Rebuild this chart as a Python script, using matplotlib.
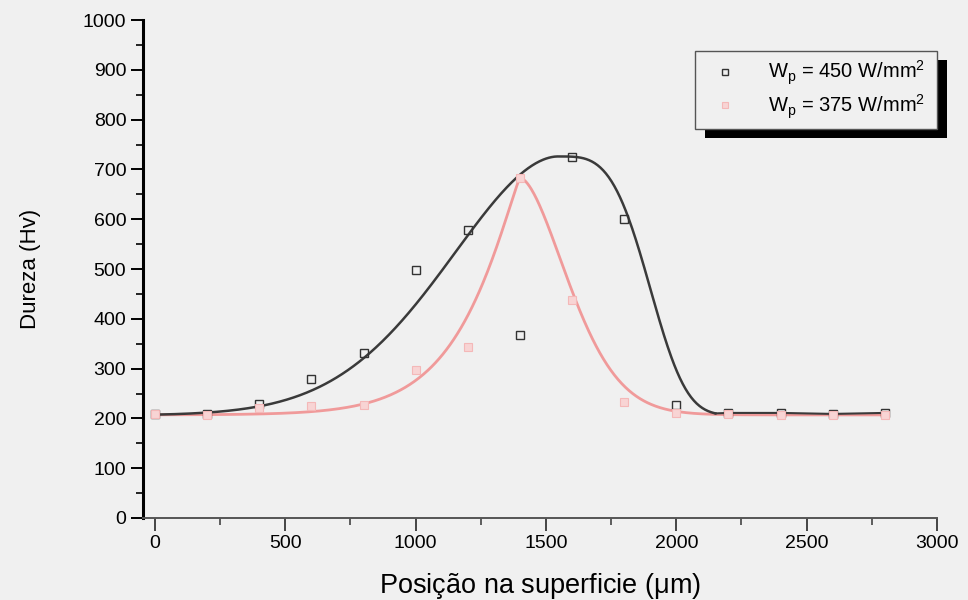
import numpy as np
import matplotlib
matplotlib.use("Agg")
import matplotlib.pyplot as plt
from matplotlib.ticker import MultipleLocator
from matplotlib.patches import Rectangle

plt.rcParams['font.family'] = ['Liberation Sans', 'DejaVu Sans']
plt.rcParams['mathtext.fontset'] = 'custom'
plt.rcParams['mathtext.rm'] = 'Liberation Sans'
plt.rcParams['mathtext.it'] = 'Liberation Sans'

# Measured hardness profiles (position in um, hardness in HV)
pos = [0, 200, 400, 600, 800, 1000, 1200, 1400, 1600, 1800, 2000, 2200, 2400, 2600, 2800]
hv_450 = [208, 208, 229, 279, 331, 498, 578, 367, 725, 600, 227, 211, 211, 209, 211]
hv_375 = [209, 207, 221, 225, 227, 297, 343, 683, 438, 233, 211, 209, 207, 207, 207]

labels = [r'W$_\mathrm{p}$ = 450 W/mm$^2$', r'W$_\mathrm{p}$ = 375 W/mm$^2$']

# Fitted peak parameters: baseline, amplitude, centre, left width/exponent, right width/exponent
fit_450 = dict(base=206, amp=520, c=1545, sl=596, pl=1.85, sr=390, pr=3.6, xmax=2150)
fit_375 = dict(base=207, amp=476, c=1400, sl=226, pl=1.15, sr=258, pr=1.7, xmax=2800)


def peak(x, base, amp, c, sl, pl, sr, pr, xmax):
    d = x - c
    s = np.where(d < 0, sl, sr)
    p = np.where(d < 0, pl, pr)
    return base + amp * np.exp(-np.abs(d / s) ** p)


bg = '#f0f0f0'
fig = plt.figure(figsize=(9.68, 6.0), dpi=100, facecolor=bg)
ax = fig.add_axes([143 / 968, 82 / 600, 794 / 968, 498 / 600])
ax.set_facecolor(bg)

black = '#3a3a3a'
pink = '#f09a9a'

x1 = np.linspace(0, fit_450['xmax'], 600)
ax.plot(x1, peak(x1, **fit_450), color=black, lw=1.8, zorder=3)
tail = [i for i, p in enumerate(pos) if p >= 2200]
ax.plot([fit_450['xmax']] + [pos[i] for i in tail],
        [peak(np.array(fit_450['xmax']), **fit_450)] + [hv_450[i] for i in tail],
        color=black, lw=1.5, zorder=3)

x2 = np.linspace(0, fit_375['xmax'], 800)
ax.plot(x2, peak(x2, **fit_375), color=pink, lw=2.0, zorder=2)

ax.plot(pos, hv_450, ls='none', marker='s', ms=6, mfc='none', mec='#333333', mew=1.0,
        zorder=4, label=labels[0])
ax.plot(pos, hv_375, ls='none', marker='s', ms=6, mfc='#f8d4d4', mec='#f4b8b8', mew=0.8,
        zorder=4, label=labels[1])

ax.set_xlim(-46, 3000)
ax.set_ylim(0, 1000)
ax.xaxis.set_major_locator(MultipleLocator(500))
ax.xaxis.set_minor_locator(MultipleLocator(250))
ax.yaxis.set_major_locator(MultipleLocator(100))
ax.yaxis.set_minor_locator(MultipleLocator(50))

for side in ('top', 'right'):
    ax.spines[side].set_visible(False)
ax.spines['left'].set_linewidth(2.2)
ax.spines['left'].set_color('black')
ax.spines['bottom'].set_linewidth(1.4)
ax.spines['bottom'].set_color('#555555')

ax.tick_params(which='major', direction='out', length=9, width=1.4, labelsize=14, colors='black', pad=3)
ax.tick_params(which='minor', direction='out', length=5, width=1.2, colors='black')
ax.tick_params(axis='x', which='both', colors='#444444', labelcolor='black')

ax.set_xlabel(r'Posição na superficie ($\mu$m)', fontsize=19.5, labelpad=14)
ax.set_ylabel('Dureza (Hv)', fontsize=16, labelpad=30)

# Legend box with a solid drop shadow
fx0, fy0, fw, fh = 695 / 968, 1 - 127 / 600, 242 / 968, 76 / 600
leg = fig.legend(loc='upper left', bbox_to_anchor=(fx0, fy0, fw, fh), mode='expand',
                 borderaxespad=0, fontsize=14.5, frameon=True, fancybox=False, framealpha=1,
                 handlelength=2.2, handletextpad=1.0, borderpad=0.4, labelspacing=0.25,
                 markerscale=0.7)
leg.get_frame().set_facecolor(bg)
leg.get_frame().set_edgecolor('#555555')
leg.get_frame().set_linewidth(1.0)
leg.set_zorder(10)
fig.canvas.draw()
bb = leg.get_window_extent()
fig.patches.append(Rectangle((bb.x0 + 10, bb.y0 - 9), bb.width, bb.height,
                             transform=None, facecolor='black', edgecolor='none', zorder=9))

fig.savefig('out.png', dpi=100, facecolor=bg)
